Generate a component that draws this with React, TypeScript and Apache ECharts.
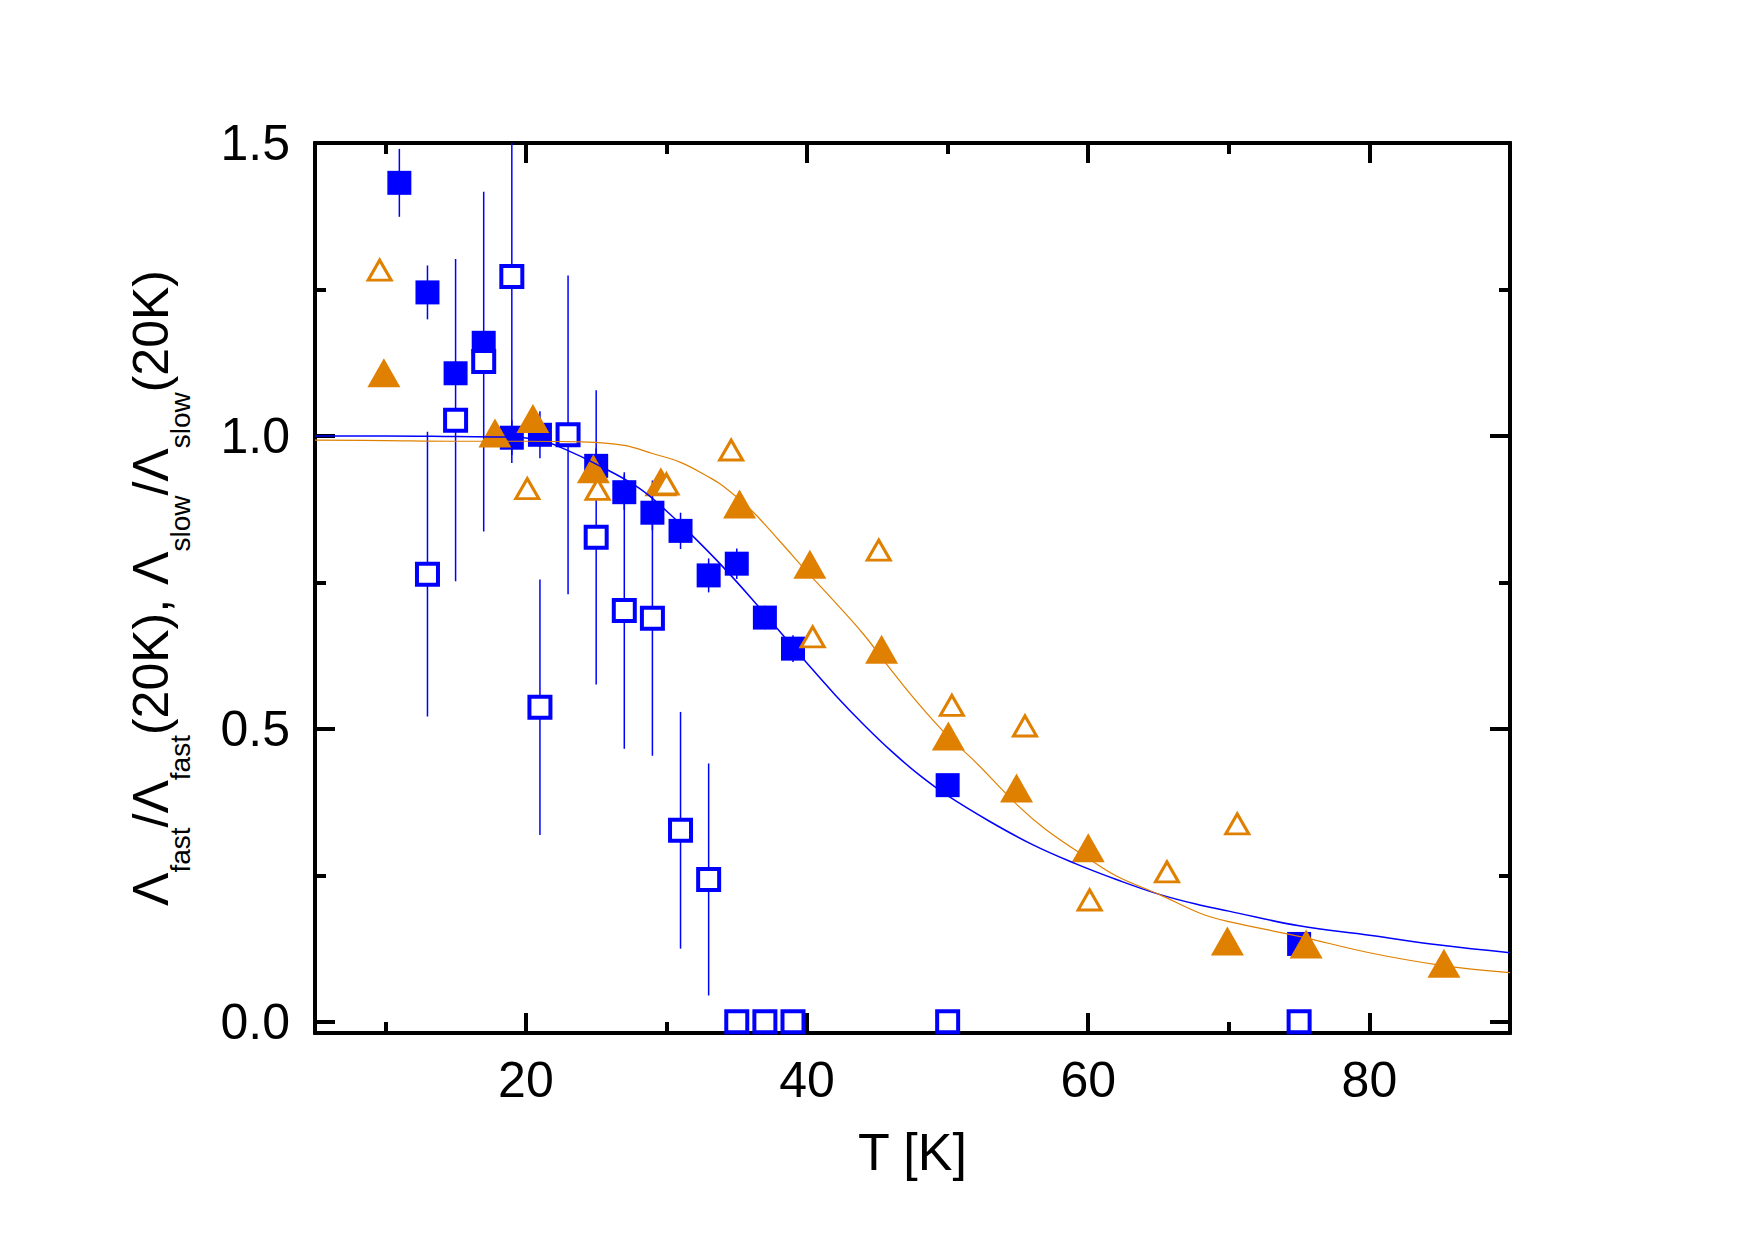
import React, { useEffect, useRef } from 'react';
import * as echarts from 'echarts';

// ---- data ----
// Lambda_fast / Lambda_fast(20K) : filled blue squares
const fastT = [11, 13, 15, 17, 19, 21, 25, 27, 29, 31, 33, 35, 37, 39, 50, 75];
const fastY = [1.432, 1.245, 1.107, 1.159, 0.997, 1.002, 0.949, 0.904, 0.869, 0.838, 0.762, 0.782, 0.690, 0.637, 0.404, 0.133];
const fastErr = [0.058, 0.046, 0.02, 0.02, 0.03, 0.04, 0.03, 0.03, 0.03, 0.031, 0.029, 0.026, 0.02, 0.023, 0.015, 0.012];

// Lambda_slow / Lambda_slow(20K) : open blue squares
const slowT = [13, 15, 17, 19, 21, 23, 25, 27, 29, 31, 33, 35, 37, 39, 50, 75];
const slowY = [0.764, 1.027, 1.127, 1.272, 0.537, 1.002, 0.827, 0.702, 0.689, 0.327, 0.243, 0, 0, 0, 0, 0];
const slowErr = [0.243, 0.275, 0.29, 0.318, 0.218, 0.272, 0.251, 0.236, 0.235, 0.202, 0.198, 0, 0, 0, 0, 0];

// second sample: filled orange triangles
const fastT2 = [9.9, 17.8, 20.5, 24.8, 29.6, 35.2, 40.2, 45.3, 50.05, 54.9, 60.0, 69.9, 75.5, 85.3];
const fastY2 = [1.108, 1.005, 1.030, 0.944, 0.922, 0.884, 0.781, 0.636, 0.488, 0.399, 0.297, 0.138, 0.133, 0.100];

// second sample: open orange triangles
const slowT2 = [9.6, 20.1, 25.1, 30.0, 34.6, 40.4, 45.1, 50.3, 55.5, 60.1, 65.6, 70.6];
const slowY2 = [1.283, 0.910, 0.909, 0.918, 0.976, 0.657, 0.805, 0.540, 0.505, 0.208, 0.256, 0.338];

// fitted curves
const blueCurveT = [5, 10, 15, 19, 21, 23, 25, 28, 30, 32, 34, 36, 38, 40, 42, 44, 46, 48, 50, 53, 56, 59, 62, 65, 68, 70, 75, 80, 85, 90];
const blueCurveY = [1.0, 1.0, 0.999, 0.998, 0.993, 0.975, 0.952, 0.912, 0.872, 0.826, 0.777, 0.724, 0.668, 0.612, 0.558, 0.508, 0.462, 0.421, 0.386, 0.342, 0.303, 0.271, 0.243, 0.218, 0.199, 0.189, 0.164, 0.148, 0.131, 0.118];
const orangeCurveT = [5, 10, 15, 20, 24, 27, 29, 31, 33, 34, 36, 38, 40, 42, 44, 46, 48, 50, 52, 55, 57, 60, 62, 65, 68, 70, 75, 80, 85, 90];
const orangeCurveY = [0.993, 0.992, 0.991, 0.991, 0.99, 0.984, 0.97, 0.955, 0.93, 0.915, 0.874, 0.822, 0.768, 0.716, 0.662, 0.6, 0.541, 0.488, 0.443, 0.369, 0.328, 0.279, 0.249, 0.218, 0.185, 0.171, 0.146, 0.118, 0.097, 0.084];

// axes
const xRange = [5, 90];
const yRange = [-0.019, 1.5];
const xMajor = [20, 40, 60, 80];
const xMinor = [10, 30, 50, 70];
const yMajor = [0, 0.5, 1.0, 1.5];
const yMinor = [0.25, 0.75, 1.25];

const BLUE = '#0000ff';
const ORANGE = '#e08000';
const FONT = '"Liberation Sans", Arial, Helvetica, sans-serif';
const TICK_FONT = 50;

function axis(position: string, ticks: number[], len: number, min: number, max: number, withLabel: boolean, extra: any = {}) {
  return {
    type: 'value',
    position,
    min,
    max,
    splitLine: { show: false },
    axisLine: { show: true, onZero: false, lineStyle: { color: '#000', width: 4 } },
    axisTick: { show: true, inside: true, length: len, customValues: ticks, lineStyle: { color: '#000', width: 4 } },
    axisLabel: withLabel
      ? { show: true, customValues: ticks, color: '#000', fontSize: TICK_FONT, fontFamily: FONT }
      : { show: false },
    ...extra,
  };
}

function errorBars(ts: number[], ys: number[], es: number[]) {
  const out: number[][] = [];
  ts.forEach((t, i) => {
    if (es[i] > 0) out.push([t, ys[i] - es[i], ys[i] + es[i]]);
  });
  return out;
}

function pairs(xs: number[], ys: number[]) {
  return xs.map((x, i) => [x, ys[i]]);
}

const errRender = (params: any, api: any) => {
  const p1 = api.coord([api.value(0), api.value(1)]);
  const p2 = api.coord([api.value(0), api.value(2)]);
  return {
    type: 'line',
    shape: { x1: p1[0], y1: p1[1], x2: p2[0], y2: p2[1] },
    style: { stroke: BLUE, lineWidth: 1.5 },
  };
};

const yName = '{m|Λ}{s|fast}{m|/Λ}{s|fast}{m|(20K), Λ}{s|slow}{m|/Λ}{s|slow}{m|(20K)}';

const option: any = {
  animation: false,
  backgroundColor: '#fff',
  grid: { left: 315, top: 143, width: 1195, height: 890, containLabel: false },
  xAxis: [
    axis('bottom', xMajor, 20, xRange[0], xRange[1], true, {
      axisLabel: { show: true, customValues: xMajor, color: '#000', fontSize: TICK_FONT, fontFamily: FONT, margin: 22 },
      name: 'T [K]',
      nameLocation: 'middle',
      nameGap: 93,
      nameTextStyle: { color: '#000', fontSize: 52, fontFamily: FONT },
    }),
    axis('bottom', xMinor, 11, xRange[0], xRange[1], false),
    axis('top', xMajor, 20, xRange[0], xRange[1], false),
    axis('top', xMinor, 11, xRange[0], xRange[1], false),
  ],
  yAxis: [
    axis('left', yMajor, 20, yRange[0], yRange[1], true, {
      axisLabel: {
        show: true, customValues: yMajor, color: '#000', fontSize: TICK_FONT, fontFamily: FONT, margin: 25,
        formatter: (v: number) => v.toFixed(1),
      },
      name: yName,
      nameLocation: 'middle',
      nameRotate: 90,
      nameGap: 121,
      nameTextStyle: {
        color: '#000',
        fontFamily: FONT,
        rich: {
          m: { fontSize: 50, lineHeight: 50, verticalAlign: 'top', fontFamily: FONT, color: '#000' },
          s: { fontSize: 28, verticalAlign: 'top', padding: [40, 0, 0, 0], fontFamily: FONT, color: '#000' },
        },
      },
    }),
    axis('left', yMinor, 11, yRange[0], yRange[1], false),
    axis('right', yMajor, 20, yRange[0], yRange[1], false),
    axis('right', yMinor, 11, yRange[0], yRange[1], false),
  ],
  series: [
    {
      type: 'line', name: 'fit fast', data: pairs(blueCurveT, blueCurveY), showSymbol: false, smooth: 0.4,
      lineStyle: { color: BLUE, width: 1.5 }, silent: true, clip: true,
    },
    {
      type: 'line', name: 'fit 2', data: pairs(orangeCurveT, orangeCurveY), showSymbol: false, smooth: 0.4,
      lineStyle: { color: ORANGE, width: 1.2 }, silent: true, clip: true,
    },
    {
      type: 'custom', name: 'err fast', data: errorBars(fastT, fastY, fastErr), renderItem: errRender,
      encode: { x: 0, y: [1, 2] }, clip: true, silent: true,
    },
    {
      type: 'custom', name: 'err slow', data: errorBars(slowT, slowY, slowErr), renderItem: errRender,
      encode: { x: 0, y: [1, 2] }, clip: true, silent: true,
    },
    {
      type: 'scatter', name: 'fast', data: pairs(fastT, fastY), symbol: 'rect', symbolSize: 24,
      itemStyle: { color: BLUE, opacity: 1 }, silent: true,
    },
    {
      type: 'scatter', name: 'slow', data: pairs(slowT, slowY), symbol: 'rect', symbolSize: 21,
      itemStyle: { color: '#fff', borderColor: BLUE, borderWidth: 4, opacity: 1 }, silent: true,
    },
    {
      type: 'scatter', name: 'fast 2', data: pairs(fastT2, fastY2), symbol: 'triangle', symbolSize: [33, 29],
      itemStyle: { color: ORANGE, opacity: 1 }, silent: true,
    },
    {
      type: 'scatter', name: 'slow 2', data: pairs(slowT2, slowY2), symbol: 'triangle', symbolSize: [23, 20],
      itemStyle: { color: '#fff', borderColor: ORANGE, borderWidth: 3, opacity: 1 }, silent: true,
    },
  ],
};

export default function App() {
  const ref = useRef<HTMLDivElement>(null);
  useEffect(() => {
    if (!ref.current) return;
    const chart = echarts.init(ref.current, null, { renderer: 'svg' });
    chart.setOption(option);
    return () => chart.dispose();
  }, []);
  return (
    <div
      ref={ref}
      style={{ position: 'fixed', left: 0, top: 0, width: 1754, height: 1239, background: '#fff' }}
    />
  );
}
